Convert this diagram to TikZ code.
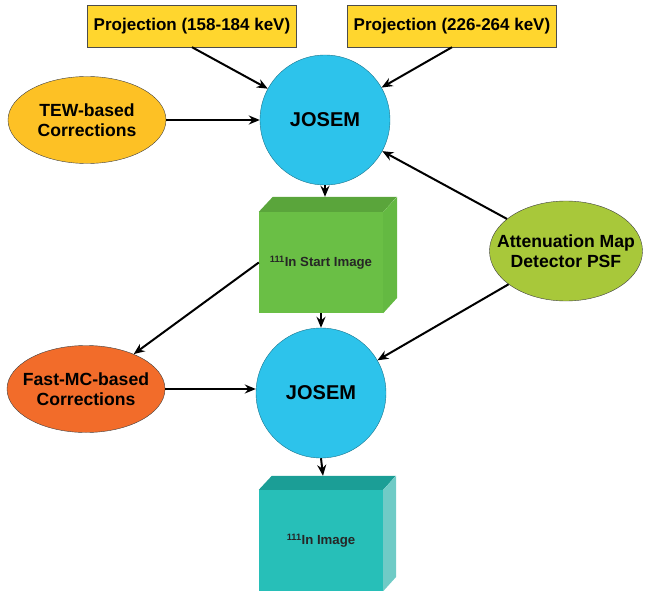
\documentclass[tikz,border=0pt]{standalone}
\usepackage{fontspec}
\setmainfont{Liberation Sans}
\usepackage{xcolor}
\definecolor{projyellow}{HTML}{FFD62E}
\definecolor{tewyellow}{HTML}{FDC125}
\definecolor{josemblue}{HTML}{2DC3EB}
\definecolor{fastorange}{HTML}{F26C2A}
\definecolor{attengreen}{HTML}{A8C83A}
\definecolor{startfront}{HTML}{6ABF45}
\definecolor{starttop}{HTML}{5AA53B}
\definecolor{startside}{HTML}{64B942}
\definecolor{finalfront}{HTML}{27BFB8}
\definecolor{finaltop}{HTML}{1B9E96}
\definecolor{finalside}{HTML}{6FCBC6}
\tikzset{%
    projbox/.style={draw=black!70, fill=projyellow, minimum width=209, minimum height=42, inner sep=0, font=\bfseries\fontsize{17}{20}\selectfont},
    oval/.style={ellipse, draw=black!75, minimum width=158, minimum height=87, inner sep=0},
    ovaltext/.style={align=center, inner sep=0, font=\bfseries\fontsize{17.6}{20.5}\selectfont},
    josem/.style={circle, draw=josemblue!60!black, fill=josemblue, minimum size=130, inner sep=0, font=\bfseries\fontsize{20}{24}\selectfont},
    imgbox/.style={rectangle, minimum width=124, minimum height=101, inner sep=0, text=black!85, font=\bfseries\fontsize{13.2}{16}\selectfont},
    flow/.style={black, line width=2pt, -{Stealth[length=11pt, width=9pt]}}
}
\usetikzlibrary{arrows.meta, positioning, shapes.geometric}

\begin{document}
\begin{tikzpicture}[x=1pt, y=-1pt]
                        \useasboundingbox (0,0) rectangle (645,591);
                        \clip (0,0) rectangle (645,591);
                        \node[projbox] (proj1) at (192,26) {Projection (158-184 keV)};
                        \node[projbox] (proj2) at (452,26) {Projection (226-264 keV)};
                        \node[oval, fill=tewyellow, label={[ovaltext]center:TEW-based\\Corrections}] (tew) at (87,120) {};
                        \node[josem] (josem1) at (325,120) {JOSEM};
                        \node[imgbox, fill=startfront] (start) at (321,262.5) {\textsuperscript{111}In Start Image};
                        \fill[starttop] (start.north west) -- ++(14,-15) -- ++(124,0) -- (start.north east) -- cycle;
                        \fill[startside] (start.north east) -- ++(14,-15) -- ++(0,101) -- (start.south east) -- cycle;
                        \node[oval, fill=attengreen, minimum width=153, minimum height=100, label={[ovaltext]center:Attenuation Map\\Detector PSF}] (atten) at (566,251) {};
                        \node[josem] (josem2) at (321,393) {JOSEM};
                        \node[oval, fill=fastorange, label={[ovaltext]center:Fast-MC-based\\Corrections}] (fastmc) at (86,389) {};
                        \node[imgbox, fill=finalfront] (final) at (321,540.5) {\textsuperscript{111}In Image};
                        \fill[finaltop] (final.north west) -- ++(13,-14) -- ++(124,0) -- (final.north east) -- cycle;
                        \fill[finalside] (final.north east) -- ++(13,-14) -- ++(0,101) -- (final.south east) -- cycle;
                        \coordinate (startback) at ([shift={(4,-15)}]start.north);
                        \coordinate (finalback) at ([shift={(2,-14)}]final.north);
                        \draw[flow] (proj1.south) -- (josem1);
                        \draw[flow] (proj2.south) -- (josem1);
                        \draw[flow] (tew) -- (josem1);
                        \draw[flow] (josem1.south) -- (startback);
                        \draw[flow] (atten) -- (josem1);
                        \draw[flow] (atten) -- (josem2);
                        \draw[flow] (start.west) -- (fastmc);
                        \draw[flow] (start.south) -- (josem2.north);
                        \draw[flow] (fastmc.east) -- (fastmc.east -| josem2.west);
                        \draw[flow] (josem2.south) -- (finalback);
                    \end{tikzpicture}
\end{document}
